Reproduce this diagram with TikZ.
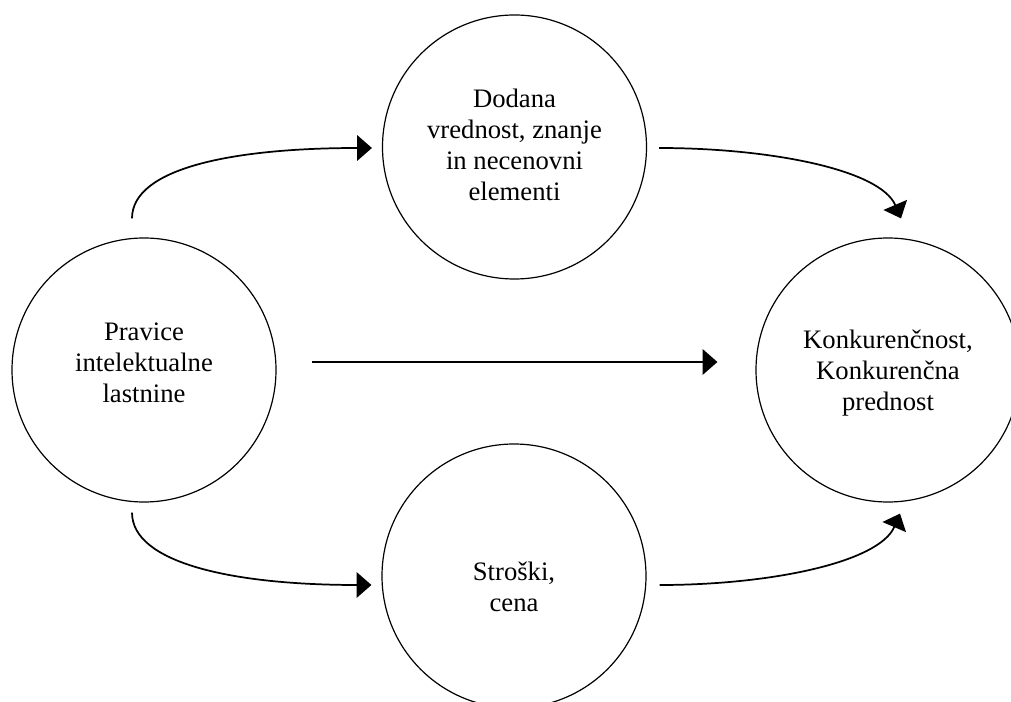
\documentclass[tikz,border=0pt]{standalone}
\usepackage{fontspec}
\setmainfont{Liberation Serif}
\usetikzlibrary{arrows.meta,calc}
\begin{document}
\begin{tikzpicture}[x=0.75pt,y=-0.75pt,
  circ/.style={circle,draw,line width=0.9pt,minimum size=198pt,inner sep=0pt},
  txt/.style={align=center,font=\fontsize{20}{23.25}\selectfont,inner sep=0pt},
  arr/.style={line width=1.3pt,-{Triangle[length=11pt,width=19pt]}}]
\useasboundingbox (0,0) rectangle (1011,702);
\node[circ,label={[txt,yshift=5.25pt]center:Pravice\\intelektualne\\lastnine}] (L) at (144,370) {};
\node[circ,label={[txt,yshift=1.5pt]center:Dodana\\vrednost, znanje\\in necenovni\\elementi}] (T) at (514.5,147) {};
\node[circ,label={[txt,yshift=-8.25pt]center:Stroški,\\cena}] (B) at (514,576) {};
\node[circ,label={[txt,yshift=-2.25pt]center:Konkurenčnost,\\Konkurenčna\\prednost}] (R) at (888,370) {};
\draw[arr] ($(L.north)+(-12,-19)$) .. controls +(0,-50) and +(-140,0) .. ($(T.west)+(-10,1)$);
\draw[arr] ($(T.east)+(12,1)$) .. controls +(110,0) and +(-21,-49) .. ($(R.north)+(13,-19)$);
\draw[arr] ($(L.east)+(35,-8)$) -- ($(R.west)+(-38,-8)$);
\draw[arr] ($(L.south)+(-12,10)$) .. controls +(0,50) and +(-140,0) .. ($(B.west)+(-10,9)$);
\draw[arr] ($(B.east)+(13,9)$) .. controls +(110,0) and +(-21,49) .. ($(R.south)+(12,11)$);
\end{tikzpicture}
\end{document}
